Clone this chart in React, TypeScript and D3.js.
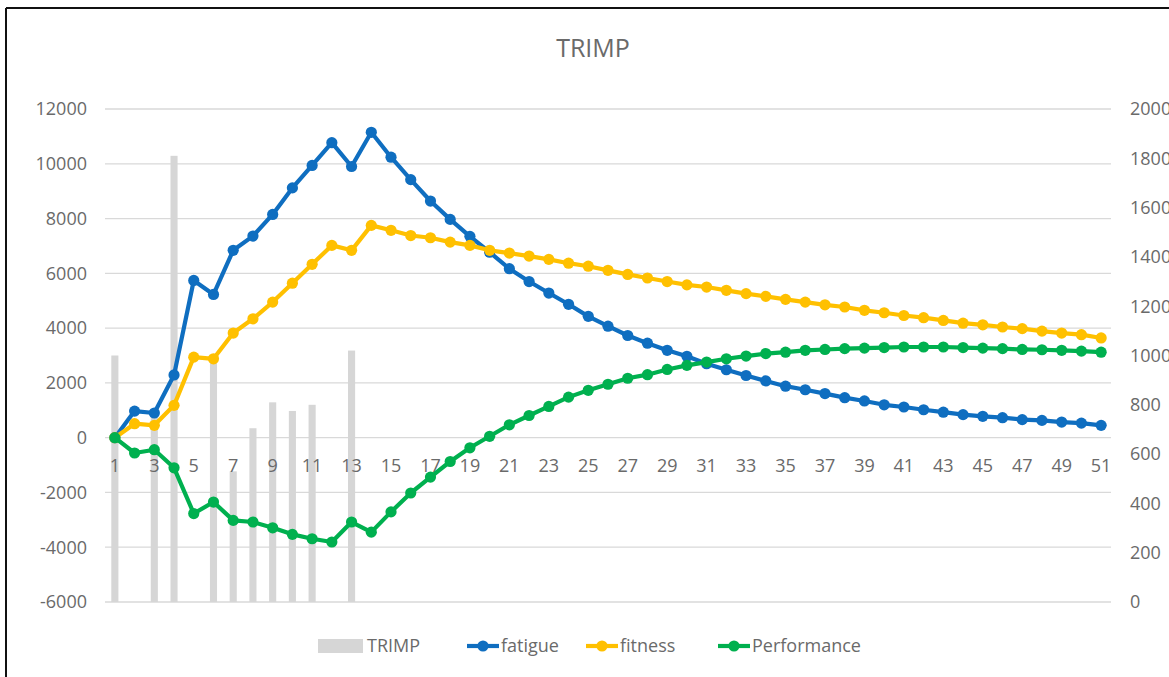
import React from "react";
import * as d3 from "d3";

const categories = [
  1, 2, 3, 4, 5, 6, 7, 8, 9, 10, 11, 12, 13, 14, 15, 16, 17, 18, 19, 20, 21, 22, 23, 24, 25,
  26, 27, 28, 29, 30, 31, 32, 33, 34, 35, 36, 37, 38, 39, 40, 41, 42, 43, 44, 45, 46, 47, 48, 49, 50, 51,
];

const trimp = [
  1000, 0, 770, 1810, 0, 1000, 530, 705, 810, 775, 800, 0, 1020, 0, 0, 0, 0, 0, 0, 0, 0, 0, 0, 0, 0,
  0, 0, 0, 0, 0, 0, 0, 0, 0, 0, 0, 0, 0, 0, 0, 0, 0, 0, 0, 0, 0, 0, 0, 0, 0, 0,
];

const fatigue = [
  0, 970, 900, 2290, 5740, 5230, 6840, 7360, 8150, 9120, 9940, 10770, 9900, 11150, 10240, 9420, 8640,
  7970, 7350, 6770, 6170, 5700, 5280, 4870, 4430, 4070, 3730, 3450, 3190, 2970, 2700, 2480, 2270, 2070,
  1880, 1750, 1610, 1460, 1340, 1200, 1120, 1020, 930, 840, 780, 730, 660, 630, 570, 530, 450,
];

const fitness = [
  0, 510, 450, 1180, 2940, 2880, 3820, 4340, 4950, 5640, 6330, 7020, 6840, 7750, 7570, 7380, 7300, 7140,
  7020, 6840, 6740, 6630, 6510, 6370, 6260, 6110, 5960, 5830, 5700, 5580, 5500, 5380, 5260, 5160, 5050,
  4950, 4850, 4770, 4650, 4560, 4460, 4380, 4280, 4180, 4120, 4040, 3980, 3890, 3820, 3760, 3640,
];

const performance = [
  0, -560, -440, -1100, -2770, -2350, -3020, -3080, -3290, -3530, -3690, -3810, -3080, -3450, -2710,
  -2020, -1440, -870, -370, 50, 470, 810, 1140, 1480, 1730, 1950, 2170, 2300, 2490, 2640, 2760, 2880,
  2980, 3070, 3120, 3190, 3220, 3250, 3270, 3290, 3310, 3310, 3310, 3290, 3270, 3250, 3220, 3210, 3190,
  3160, 3120,
];

const leftTicks = [-6000, -4000, -2000, 0, 2000, 4000, 6000, 8000, 10000, 12000];
const rightTicks = [0, 200, 400, 600, 800, 1000, 1200, 1400, 1600, 1800, 2000];
const categoryLabels = categories.filter((c) => c % 2 === 1);

const seriesNames = ["TRIMP", "fatigue", "fitness", "Performance"];

const W = 1169;
const H = 677;
const FONT = "'Open Sans', 'Noto Sans', sans-serif";
const TEXT = "#6a6a6a";
const GRID = "#d9d9d9";
const BAR = "#d6d6d6";
const BLUE = "#0f6ec0";
const YELLOW = "#ffc000";
const GREEN = "#00b04f";

export default function App() {
  const x = d3
    .scaleBand<number>()
    .domain(categories)
    .range([105, 1111]);
  const yL = d3.scaleLinear().domain([-6000, 12000]).range([602, 109]);
  const yR = d3.scaleLinear().domain([0, 2000]).range([602, 109]);
  const cx = (c: number) => (x(c) as number) + x.bandwidth() / 2;
  const bw = x.bandwidth() * 0.36;

  const lineGen = d3
    .line<number>()
    .x((_, i) => cx(categories[i]))
    .y((d) => yL(d));

  const lineSeries = [
    { name: seriesNames[1], data: fatigue, color: BLUE },
    { name: seriesNames[2], data: fitness, color: YELLOW },
    { name: seriesNames[3], data: performance, color: GREEN },
  ];

  const legendLines = [
    { x0: 467, x1: 499, tx: 501, color: BLUE, label: seriesNames[1] },
    { x0: 586, x1: 618, tx: 620, color: YELLOW, label: seriesNames[2] },
    { x0: 718, x1: 750, tx: 752, color: GREEN, label: seriesNames[3] },
  ];
  const legendY = 646;

  return (
    <svg
      width={W}
      height={H}
      style={{ position: "absolute", left: 0, top: 0, background: "#fff" }}
      fontFamily={FONT}
    >
      <rect x={0} y={0} width={W} height={H} fill="#fff" />
      {/* frame */}
      <line x1={6} y1={8} x2={W} y2={8} stroke="#111" strokeWidth={2} />
      <line x1={6} y1={8} x2={6} y2={H} stroke="#111" strokeWidth={2} />

      {/* title */}
      <text x={593} y={57} textAnchor="middle" fontSize={25} fill={TEXT}>
        TRIMP
      </text>

      {/* gridlines */}
      {leftTicks.map((t) => (
        <line key={"g" + t} x1={105} x2={1111} y1={yL(t)} y2={yL(t)} stroke={GRID} strokeWidth={1.3} />
      ))}

      {/* left axis labels */}
      {leftTicks.map((t) => (
        <text key={"l" + t} x={87} y={yL(t)} dy="0.35em" textAnchor="end" fontSize={18} fill={TEXT}>
          {t}
        </text>
      ))}
      {/* right axis labels */}
      {rightTicks.map((t) => (
        <text key={"r" + t} x={1130} y={yR(t)} dy="0.35em" textAnchor="start" fontSize={18} fill={TEXT}>
          {t}
        </text>
      ))}

      {/* bars */}
      {categories.map((c, i) => (
        <rect
          key={"b" + c}
          x={cx(c) - bw / 2}
          y={yR(trimp[i])}
          width={bw}
          height={yR(0) - yR(trimp[i])}
          fill={BAR}
        />
      ))}

      {/* category labels */}
      {categoryLabels.map((c) => (
        <text key={"c" + c} x={cx(c)} y={yL(0) + 28} dy="0.35em" textAnchor="middle" fontSize={18} fill={TEXT}>
          {c}
        </text>
      ))}

      {/* lines */}
      {lineSeries.map((s) => (
        <g key={s.name}>
          <path d={lineGen(s.data) as string} fill="none" stroke={s.color} strokeWidth={4.2} strokeLinejoin="round" />
          {s.data.map((v, i) => (
            <circle key={i} cx={cx(categories[i])} cy={yL(v)} r={5.6} fill={s.color} />
          ))}
        </g>
      ))}

      {/* legend */}
      <rect x={318} y={legendY - 7} width={45} height={14} fill={BAR} />
      <text x={367} y={legendY} dy="0.35em" fontSize={18} fill={TEXT}>
        {seriesNames[0]}
      </text>
      {legendLines.map((l) => (
        <g key={"lg" + l.label}>
          <line x1={l.x0} x2={l.x1} y1={legendY} y2={legendY} stroke={l.color} strokeWidth={4.2} />
          <circle cx={(l.x0 + l.x1) / 2} cy={legendY} r={5.6} fill={l.color} />
          <text x={l.tx} y={legendY} dy="0.35em" fontSize={18} fill={TEXT}>
            {l.label}
          </text>
        </g>
      ))}
    </svg>
  );
}
